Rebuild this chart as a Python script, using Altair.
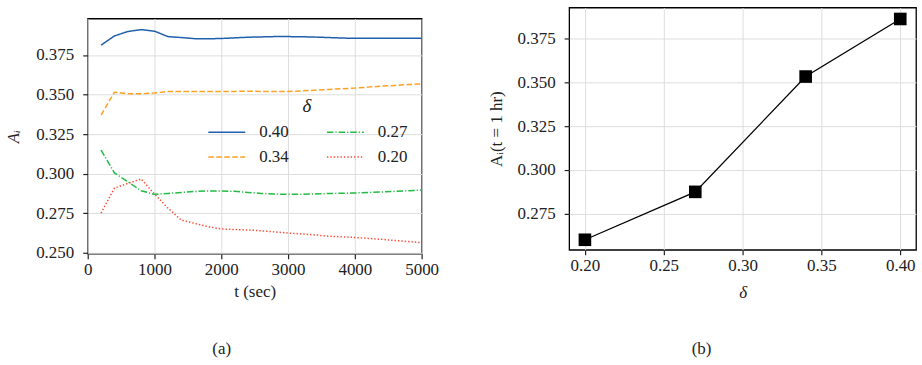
import altair as alt
import pandas as pd

# Time axis (seconds) and A_i trajectories for each delta
t_sec = [200, 400, 600, 800, 1000, 1200, 1400, 1600, 1800, 2000, 2200, 2400, 2600,
         2800, 3000, 3200, 3400, 3600, 3800, 4000, 4200, 4400, 4600, 4800, 5000]
a_040 = [0.3812, 0.3870, 0.3898, 0.3910, 0.3900, 0.3866, 0.3860, 0.3853, 0.3852, 0.3854,
         0.3858, 0.3862, 0.3864, 0.3866, 0.3866, 0.3865, 0.3863, 0.3860, 0.3857, 0.3855,
         0.3855, 0.3855, 0.3855, 0.3855, 0.3855]
a_034 = [0.3371, 0.3515, 0.3505, 0.3505, 0.3510, 0.3520, 0.3520, 0.3519, 0.3519, 0.3520,
         0.3520, 0.3521, 0.3520, 0.3520, 0.3520, 0.3523, 0.3527, 0.3532, 0.3537, 0.3541,
         0.3547, 0.3553, 0.3558, 0.3563, 0.3567]
a_027 = [0.3150, 0.3005, 0.2950, 0.2893, 0.2870, 0.2876, 0.2882, 0.2888, 0.2892, 0.2892,
         0.2889, 0.2882, 0.2876, 0.2872, 0.2870, 0.2871, 0.2873, 0.2875, 0.2877, 0.2879,
         0.2882, 0.2885, 0.2889, 0.2893, 0.2897]
a_020 = [0.2752, 0.2910, 0.2939, 0.2967, 0.2872, 0.2784, 0.2708, 0.2687, 0.2666, 0.2652,
         0.2648, 0.2645, 0.2640, 0.2633, 0.2626, 0.2620, 0.2614, 0.2606, 0.2602, 0.2598,
         0.2592, 0.2586, 0.2579, 0.2572, 0.2565]

# A_i after one hour versus delta
delta_vals = [0.20, 0.27, 0.34, 0.40]
a_one_hour = [0.2602, 0.2875, 0.3532, 0.3860]

series_names = ["0.40", "0.34", "0.27", "0.20"]
series_colors = ["#1f5fab", "#ffa020", "#22bb44", "#ff4a33"]
series_dashes = [[1, 0], [5.5, 2.5], [6.5, 2, 1.2, 2], [1.4, 2]]
series_values = {"0.40": a_040, "0.34": a_034, "0.27": a_027, "0.20": a_020}

rows = []
for name in series_names:
    for t, v in zip(t_sec, series_values[name]):
        rows.append({"t": t, "A": v, "delta": name})
df_time = pd.DataFrame(rows)
df_hour = pd.DataFrame({"delta": delta_vals, "A": a_one_hour})

FONT = "Liberation Serif, Times New Roman, Times, serif"
GRID = "#dddddd"

axis_common = dict(
    labelFont=FONT, labelFontSize=17, labelColor="#222222", labelFlush=False,
    titleFont=FONT, titleFontSize=17, titleColor="#222222", titleFontWeight="normal",
    gridColor=GRID, gridWidth=1, domain=False,
    tickColor="#222222", tickSize=5, tickWidth=1.2,
)

left = alt.Chart(df_time).mark_line(strokeWidth=1.5).encode(
    x=alt.X("t:Q", title="t (sec)",
            scale=alt.Scale(domain=[0, 5000], nice=False),
            axis=alt.Axis(values=[0, 1000, 2000, 3000, 4000, 5000], format="d",
                          labelPadding=3, titlePadding=6, **axis_common)),
    y=alt.Y("A:Q", title="Aᵢ",
            scale=alt.Scale(domain=[0.2495, 0.398], nice=False, zero=False),
            axis=alt.Axis(values=[0.25, 0.275, 0.3, 0.325, 0.35, 0.375], format=".3f",
                          labelPadding=9, titleFontStyle="italic", titlePadding=13,
                          **axis_common)),
    color=alt.Color("delta:N",
                    scale=alt.Scale(domain=series_names, range=series_colors),
                    legend=alt.Legend(
                        title="δ", orient="none", legendX=120, legendY=90,
                        columns=2, symbolType="stroke", symbolSize=1369,
                        symbolStrokeWidth=1.5, clipHeight=20, rowPadding=5,
                        columnPadding=37, labelOffset=13,
                        labelFont=FONT, labelFontSize=17, labelColor="#222222",
                        titleFont=FONT, titleFontSize=19, titleFontStyle="italic",
                        titleFontWeight="normal", titleColor="#222222",
                        titleAnchor="middle", titleAlign="center", titlePadding=6,
                        padding=0)),
    strokeDash=alt.StrokeDash("delta:N",
                              scale=alt.Scale(domain=series_names, range=series_dashes),
                              legend=None),
    order=alt.Order("t:Q"),
).properties(
    width=335, height=236,
    title=alt.TitleParams("(a)", orient="bottom", font=FONT, fontSize=17,
                          fontWeight="normal", color="#222222", offset=42,
                          anchor="middle", frame="bounds"),
)

# empty strip that lowers the left panel below the right one
spacer = alt.Chart(alt.Data(values=[])).mark_point(opacity=0).encode(
    x=alt.value(0), y=alt.value(0)
).properties(width=335, height=9, view=alt.ViewBackground(stroke="transparent"))

left_col = alt.vconcat(spacer, left, spacing=0)

base_r = alt.Chart(df_hour).encode(
    x=alt.X("delta:Q", title="δ",
            scale=alt.Scale(domain=[0.19, 0.41], nice=False, zero=False),
            axis=alt.Axis(values=[0.2, 0.25, 0.3, 0.35, 0.4], format=".2f",
                          labelPadding=3, titleFontStyle="italic", titlePadding=11,
                          **axis_common)),
    y=alt.Y("A:Q", title="Aᵢ(t = 1 hr)",
            scale=alt.Scale(domain=[0.2545, 0.3925], nice=False, zero=False),
            axis=alt.Axis(values=[0.275, 0.3, 0.325, 0.35, 0.375], format=".3f",
                          labelPadding=9, titlePadding=12, **axis_common)),
)
right = alt.layer(
    base_r.mark_line(color="black", strokeWidth=1.3),
    base_r.mark_point(shape="square", filled=True, color="black", size=160, opacity=1),
).properties(
    width=348, height=243,
    title=alt.TitleParams("(b)", orient="bottom", font=FONT, fontSize=17,
                          fontWeight="normal", color="#222222", offset=41,
                          anchor="middle", frame="bounds"),
)

chart = alt.hconcat(left_col, right, spacing=47).properties(
    padding={"left": 4, "top": 6, "right": 5, "bottom": 5},
    background="white",
).configure_view(
    stroke="black", strokeWidth=1.3
)

chart.save("out.html", embed_options={"renderer": "svg", "actions": False})
